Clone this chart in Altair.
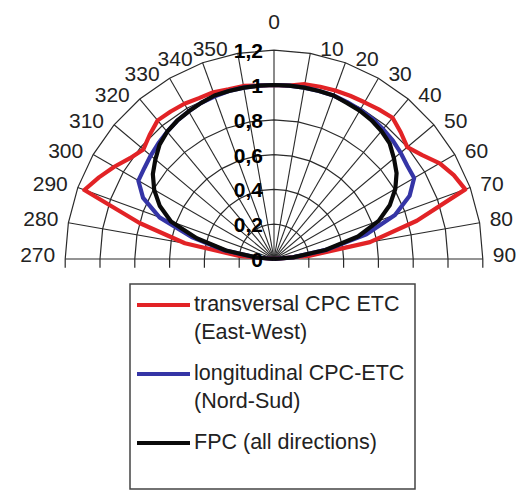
import math
import altair as alt
import pandas as pd

# ---------------- data ----------------
angles = list(range(-90, 91, 5))  # degrees, 0 = top, -90 = 270°, +90 = 90°

red_vals = [0.0, 0.2, 0.52, 0.8, 1.16, 1.11, 1.06, 1.01, 0.98, 1.01, 1.04, 1.035, 1.03, 1.02, 1.02, 1.01, 1.01, 1.0,
            1.0,
            1.0, 1.02, 1.025, 1.03, 1.035, 1.04, 1.05, 1.06, 1.03, 1.0, 1.04, 1.1, 1.14, 1.17, 0.85, 0.56, 0.2, 0.0]
blue_vals = [0.0, 0.1, 0.29, 0.49, 0.7, 0.83, 0.9, 0.91, 0.925, 0.94, 0.955, 0.97, 0.98, 0.99, 0.995, 1.0, 1.0, 1.0,
             1.0,
             1.0, 1.0, 1.0, 1.0, 0.995, 0.99, 0.985, 0.975, 0.965, 0.95, 0.935, 0.93, 0.86, 0.74, 0.55, 0.31, 0.11, 0.0]
black_vals = [0.0, 0.1, 0.28, 0.46, 0.63, 0.725, 0.795, 0.85, 0.89, 0.93, 0.955, 0.97, 0.98, 0.99, 1.0, 1.0, 1.0, 1.0,
              1.0,
              1.0, 1.0, 1.0, 1.0, 0.99, 0.985, 0.975, 0.96, 0.94, 0.9, 0.86, 0.805, 0.735, 0.64, 0.5, 0.3, 0.11, 0.0]

series_names = ["transversal", "longitudinal", "FPC"]
series_colors = ["#e22326", "#3535a6", "#0a0a0a"]
legend_text = [["transversal CPC ETC", "(East-West)"],
               ["longitudinal CPC-ETC", "(Nord-Sud)"],
               ["FPC (all directions)"]]

ring_values = [0.2, 0.4, 0.6, 0.8, 1.0, 1.2]
radial_labels = ["0", "0,2", "0,4", "0,6", "0,8", "1", "1,2"]
radial_label_values = [0.0, 0.2, 0.4, 0.6, 0.8, 1.0, 1.2]

spoke_angles = list(range(-90, 91, 10))
spoke_labels = ["270", "280", "290", "300", "310", "320", "330", "340", "350",
                "0", "10", "20", "30", "40", "50", "60", "70", "80", "90"]

# ---------------- geometry ----------------
W, H = 510, 482
PX = 174.0          # pixels per unit radius
CX, CY = 266, 251   # centre inside plot area
xdom = [-CX / PX, (W - CX) / PX]
ydom = [-(H - CY) / PX, CY / PX]
R_MAX = 1.2


def pol(r, a):
    t = math.radians(a)
    return r * math.sin(t), r * math.cos(t)


xs = alt.Scale(domain=xdom, nice=False, zero=False)
ys = alt.Scale(domain=ydom, nice=False, zero=False)

# rings
ring_rows = []
for r in ring_values:
    for i, a in enumerate(spoke_angles):
        x, y = pol(r, a)
        ring_rows.append({"ring": r, "i": i, "x": x, "y": y})
rings = alt.Chart(pd.DataFrame(ring_rows)).mark_line(color="#2a2a2a", strokeWidth=1.2).encode(
    x=alt.X("x:Q", scale=xs, axis=None),
    y=alt.Y("y:Q", scale=ys, axis=None),
    detail="ring:N",
    order="i:Q",
)

# spokes
spoke_rows = []
for a in spoke_angles:
    x2, y2 = pol(R_MAX, a)
    spoke_rows.append({"x": 0.0, "y": 0.0, "x2": x2, "y2": y2})
spokes = alt.Chart(pd.DataFrame(spoke_rows)).mark_rule(color="#2a2a2a", strokeWidth=1.1).encode(
    x=alt.X("x:Q", scale=xs, axis=None), y=alt.Y("y:Q", scale=ys, axis=None),
    x2="x2:Q", y2="y2:Q",
)

# ticks below baseline
tick_rows = []
for r in ring_values:
    for s in (-1, 1):
        tick_rows.append({"x": s * r, "y": 0.0, "y2": -0.05})
ticks = alt.Chart(pd.DataFrame(tick_rows)).mark_rule(color="#2a2a2a", strokeWidth=1.2).encode(
    x=alt.X("x:Q", scale=xs, axis=None), y=alt.Y("y:Q", scale=ys, axis=None), y2="y2:Q",
)

# curves
curve_rows = []
for name, vals in zip(series_names, [red_vals, blue_vals, black_vals]):
    for i, (a, r) in enumerate(zip(angles, vals)):
        x, y = pol(r, a)
        curve_rows.append({"series": name, "i": i, "x": x, "y": y})
curves = alt.Chart(pd.DataFrame(curve_rows)).mark_line(strokeWidth=4.2, strokeJoin="round").encode(
    x=alt.X("x:Q", scale=xs, axis=None),
    y=alt.Y("y:Q", scale=ys, axis=None),
    color=alt.Color("series:N", scale=alt.Scale(domain=series_names, range=series_colors), legend=None),
    order="i:Q",
)

# angle labels
lab_rows = []
for a, t in zip(spoke_angles, spoke_labels):
    x, y = pol(R_MAX, a)
    side = "top" if a == 0 else ("right" if a > 0 else "left")
    lab_rows.append({"x": x, "y": y, "t": t, "side": side})
lab_df = pd.DataFrame(lab_rows)
font = "Liberation Sans"


def lab_layer(side, **kw):
    return alt.Chart(lab_df[lab_df.side == side]).mark_text(
        font=font, fontSize=21, color="#222", baseline="middle", **kw
    ).encode(x=alt.X("x:Q", scale=xs, axis=None), y=alt.Y("y:Q", scale=ys, axis=None), text="t:N")


lab_right = lab_layer("right", align="left", dx=10, dy=-3)
lab_left = lab_layer("left", align="right", dx=-10, dy=-3)
lab_top = lab_layer("top", align="center", dy=-27)

# radial labels
rad_df = pd.DataFrame({"x": [0.0] * len(radial_labels), "y": radial_label_values, "t": radial_labels})
rad = alt.Chart(rad_df).mark_text(
    font=font, fontSize=21, color="#000", align="right", baseline="middle", dx=-11, dy=2,
    fontWeight="bold"
).encode(x=alt.X("x:Q", scale=xs, axis=None), y=alt.Y("y:Q", scale=ys, axis=None), text="t:N")

# legend (pixel layout)
LX0, LY0, LX1, LY1 = 122, 276, 407, 481
box = alt.Chart(pd.DataFrame({"a": [0]})).mark_rect(
    fill="white", stroke="#444", strokeWidth=1.5
).encode(x=alt.value(LX0), x2=alt.value(LX1), y=alt.value(LY0), y2=alt.value(LY1))

leg_line_rows, leg_text_rows = [], []
for k, (name, col, lines) in enumerate(zip(series_names, series_colors, legend_text)):
    ybase = 297 + k * 69
    leg_line_rows.append({"x": 129, "x2": 182, "y": ybase, "c": col})
    for j, ln in enumerate(lines):
        leg_text_rows.append({"x": 186, "y": ybase + j * 28, "t": ln})
leg_lines = alt.Chart(pd.DataFrame(leg_line_rows)).mark_rule(strokeWidth=4).encode(
    x=alt.X("x:Q", scale=None), x2="x2:Q", y=alt.Y("y:Q", scale=None),
    color=alt.Color("c:N", scale=None),
)
leg_texts = alt.Chart(pd.DataFrame(leg_text_rows)).mark_text(
    font=font, fontSize=21.5, color="#222", align="left", baseline="middle"
).encode(x=alt.X("x:Q", scale=None), y=alt.Y("y:Q", scale=None), text="t:N")

chart = alt.layer(
    rings, spokes, ticks, curves, lab_right, lab_left, lab_top, rad, box, leg_lines, leg_texts
).properties(
    width=W, height=H, padding=0, autosize=alt.AutoSizeParams(type="none")
).configure_view(stroke=None).resolve_scale(x="shared", y="shared")

chart.save("out.html", embed_options={"renderer": "svg", "actions": False})
